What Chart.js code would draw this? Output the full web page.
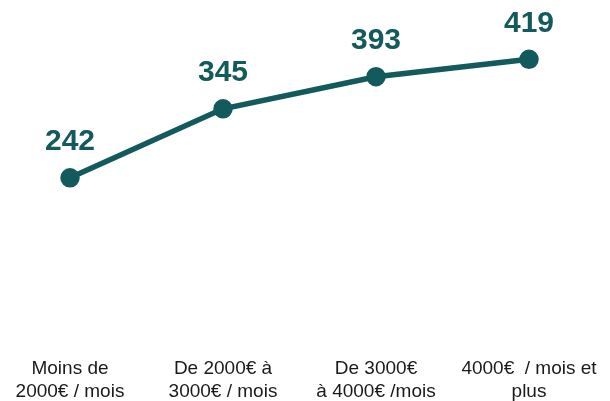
<!DOCTYPE html>
<html><head><meta charset="utf-8">
<script src="https://cdn.jsdelivr.net/npm/chart.js@4"></script>
<style>html,body{margin:0;padding:0;background:#fff}#w{width:610px;height:401px}</style>
</head><body><div id="w"><canvas id="c"></canvas></div>
<script>
const categories = [["Moins de","2000€ / mois"],["De 2000€ à","3000€ / mois"],["De 3000€","à 4000€ /mois"],["4000€  / mois et","plus"]];
const values = [242, 345, 393, 419];
const color = '#135a5c';

const labelPlugin = {
  id: 'vlabels',
  afterDatasetsDraw(chart) {
    const ctx = chart.ctx;
    const meta = chart.getDatasetMeta(0);
    ctx.save();
    ctx.font = 'bold 30px "Liberation Sans", Arial, sans-serif';
    ctx.fillStyle = color;
    ctx.textAlign = 'center';
    ctx.textBaseline = 'middle';
    meta.data.forEach((p, i) => {
      ctx.fillText(String(values[i]), p.x, p.y - 36);
    });
    ctx.restore();
  }
};

new Chart(document.getElementById('c'), {
  type: 'line',
  data: { labels: categories, datasets: [{ data: values, borderColor: color, backgroundColor: color, borderWidth: 5.5, pointRadius: 7, pointHoverRadius: 7, tension: 0 }] },
  options: {
    responsive: true, maintainAspectRatio: false, animation: false,
    layout: { autoPadding: false, padding: { left: 70, right: 81, top: 5, bottom: 0 } },
    plugins: { legend: { display: false }, tooltip: { enabled: false } },
    scales: {
      x: { offset: false, grid: { display: false, drawTicks: false }, border: { display: false },
           afterFit(scale) { scale.paddingLeft = 0; scale.paddingRight = 0; scale.height = 61; },
           ticks: { color: '#1a1a1a', font: { family: '"Liberation Sans", Arial, sans-serif', size: 19, lineHeight: 1.18 }, padding: 18, maxRotation: 0, autoSkip: false } },
      y: { display: false, min: 0, max: 500 }
    }
  },
  plugins: [labelPlugin]
});
</script></body></html>
